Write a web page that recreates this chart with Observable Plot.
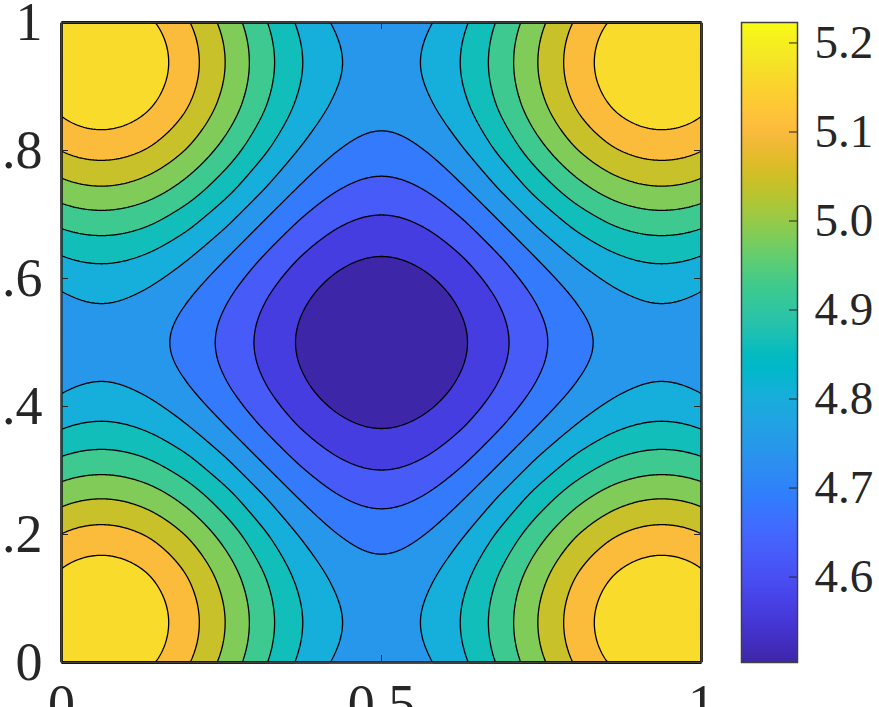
<!DOCTYPE html>
<html><head><meta charset="utf-8">
<script src="https://cdn.jsdelivr.net/npm/d3@7"></script>
<script src="https://cdn.jsdelivr.net/npm/@observablehq/plot@0.6"></script>
<style>
html,body{margin:0;padding:0;background:#fff;overflow:hidden;}
#wrap{display:flex;flex-direction:row;align-items:flex-start;width:879px;height:707px;overflow:hidden;}
#wrap svg{flex:none;max-width:none !important;}
#wrap svg.main{width:740px !important;height:740px !important;}
#wrap svg.cbar{width:139px !important;height:740px !important;}
</style></head><body><div id="wrap"></div>
<script>
// Grid positions (x and y) of the sampled field
const gridX = [0,0.0625,0.125,0.1875,0.25,0.3125,0.375,0.4375,0.5,0.5625,0.625,0.6875,0.75,0.8125,0.875,0.9375,1];
const gridY = [0,0.0625,0.125,0.1875,0.25,0.3125,0.375,0.4375,0.5,0.5625,0.625,0.6875,0.75,0.8125,0.875,0.9375,1];
// Field values, zGrid[iy][ix]
const zGrid = [
[5.1798,5.2012,5.1798,5.1199,5.0332,4.9371,4.8504,4.7905,4.7691,4.7905,4.8504,4.9371,5.0332,5.1199,5.1798,5.2012,5.1798],
[5.2012,5.2230,5.2012,5.1402,5.0519,4.9540,4.8658,4.8047,4.7829,4.8047,4.8658,4.9540,5.0519,5.1402,5.2012,5.2230,5.2012],
[5.1798,5.2012,5.1798,5.1199,5.0332,4.9371,4.8504,4.7905,4.7691,4.7905,4.8504,4.9371,5.0332,5.1199,5.1798,5.2012,5.1798],
[5.1199,5.1402,5.1199,5.0630,4.9809,4.8897,4.8075,4.7507,4.7304,4.7507,4.8075,4.8897,4.9809,5.0630,5.1199,5.1402,5.1199],
[5.0332,5.0519,5.0332,4.9809,4.9052,4.8212,4.7455,4.6932,4.6745,4.6932,4.7455,4.8212,4.9052,4.9809,5.0332,5.0519,5.0332],
[4.9371,4.9540,4.9371,4.8897,4.8212,4.7452,4.6767,4.6293,4.6124,4.6293,4.6767,4.7452,4.8212,4.8897,4.9371,4.9540,4.9371],
[4.8504,4.8658,4.8504,4.8075,4.7455,4.6767,4.6147,4.5718,4.5565,4.5718,4.6147,4.6767,4.7455,4.8075,4.8504,4.8658,4.8504],
[4.7905,4.8047,4.7905,4.7507,4.6932,4.6293,4.5718,4.5320,4.5178,4.5320,4.5718,4.6293,4.6932,4.7507,4.7905,4.8047,4.7905],
[4.7691,4.7829,4.7691,4.7304,4.6745,4.6124,4.5565,4.5178,4.5040,4.5178,4.5565,4.6124,4.6745,4.7304,4.7691,4.7829,4.7691],
[4.7905,4.8047,4.7905,4.7507,4.6932,4.6293,4.5718,4.5320,4.5178,4.5320,4.5718,4.6293,4.6932,4.7507,4.7905,4.8047,4.7905],
[4.8504,4.8658,4.8504,4.8075,4.7455,4.6767,4.6147,4.5718,4.5565,4.5718,4.6147,4.6767,4.7455,4.8075,4.8504,4.8658,4.8504],
[4.9371,4.9540,4.9371,4.8897,4.8212,4.7452,4.6767,4.6293,4.6124,4.6293,4.6767,4.7452,4.8212,4.8897,4.9371,4.9540,4.9371],
[5.0332,5.0519,5.0332,4.9809,4.9052,4.8212,4.7455,4.6932,4.6745,4.6932,4.7455,4.8212,4.9052,4.9809,5.0332,5.0519,5.0332],
[5.1199,5.1402,5.1199,5.0630,4.9809,4.8897,4.8075,4.7507,4.7304,4.7507,4.8075,4.8897,4.9809,5.0630,5.1199,5.1402,5.1199],
[5.1798,5.2012,5.1798,5.1199,5.0332,4.9371,4.8504,4.7905,4.7691,4.7905,4.8504,4.9371,5.0332,5.1199,5.1798,5.2012,5.1798],
[5.2012,5.2230,5.2012,5.1402,5.0519,4.9540,4.8658,4.8047,4.7829,4.8047,4.8658,4.9540,5.0519,5.1402,5.2012,5.2230,5.2012],
[5.1798,5.2012,5.1798,5.1199,5.0332,4.9371,4.8504,4.7905,4.7691,4.7905,4.8504,4.9371,5.0332,5.1199,5.1798,5.2012,5.1798]
];
const zRange = [4.504, 5.223];
const levels = [4.5639,4.6238,4.6838,4.7437,4.8036,4.8635,4.9234,4.9833,5.0433,5.1032,5.1631];
const xTicks = [0, 0.5, 1];
const yTicks = [0, 0.2, 0.4, 0.6, 0.8, 1];
const cbTicks = [4.6, 4.7, 4.8, 4.9, 5.0, 5.1, 5.2];

// parula colormap (64 entries)
const parula = [
[0.2422,0.1504,0.6603],[0.2504,0.1650,0.7076],[0.2578,0.1818,0.7511],[0.2647,0.1978,0.7952],
[0.2706,0.2147,0.8364],[0.2751,0.2342,0.8710],[0.2783,0.2559,0.8991],[0.2803,0.2782,0.9221],
[0.2813,0.3006,0.9414],[0.2810,0.3228,0.9579],[0.2795,0.3447,0.9717],[0.2760,0.3667,0.9829],
[0.2699,0.3892,0.9906],[0.2602,0.4123,0.9952],[0.2440,0.4358,0.9988],[0.2206,0.4603,0.9973],
[0.1963,0.4847,0.9892],[0.1834,0.5074,0.9798],[0.1786,0.5289,0.9682],[0.1764,0.5499,0.9520],
[0.1687,0.5703,0.9359],[0.1540,0.5902,0.9218],[0.1460,0.6091,0.9079],[0.1380,0.6276,0.8973],
[0.1248,0.6459,0.8883],[0.1113,0.6635,0.8763],[0.0952,0.6798,0.8598],[0.0689,0.6948,0.8394],
[0.0297,0.7082,0.8163],[0.0036,0.7203,0.7917],[0.0067,0.7312,0.7660],[0.0433,0.7411,0.7394],
[0.0964,0.7500,0.7120],[0.1408,0.7584,0.6842],[0.1717,0.7670,0.6554],[0.1938,0.7758,0.6251],
[0.2161,0.7843,0.5923],[0.2470,0.7918,0.5567],[0.2906,0.7973,0.5188],[0.3406,0.8008,0.4789],
[0.3909,0.8029,0.4354],[0.4456,0.8024,0.3909],[0.5044,0.7993,0.3480],[0.5616,0.7942,0.3045],
[0.6174,0.7876,0.2612],[0.6720,0.7793,0.2227],[0.7242,0.7698,0.1910],[0.7738,0.7598,0.1646],
[0.8203,0.7498,0.1535],[0.8634,0.7406,0.1596],[0.9035,0.7330,0.1774],[0.9393,0.7288,0.2100],
[0.9728,0.7298,0.2394],[0.9956,0.7434,0.2371],[0.9970,0.7659,0.2199],[0.9952,0.7893,0.2028],
[0.9892,0.8136,0.1885],[0.9786,0.8386,0.1766],[0.9676,0.8639,0.1643],[0.9610,0.8890,0.1537],
[0.9597,0.9135,0.1423],[0.9628,0.9373,0.1265],[0.9691,0.9606,0.1064],[0.9769,0.9839,0.0805]
];
const parulaInterp = d3.piecewise(d3.interpolateRgb, parula.map(([r,g,b]) => d3.rgb(r*255, g*255, b*255).formatHex()));
const colorScale = {type: "linear", domain: zRange, interpolate: parulaInterp, clamp: true};

// Smooth (bicubic Catmull-Rom) lookup into the grid, used by Plot's contour sampler
function padRow(v) {
  const n = v.length;
  return [3*v[0]-3*v[1]+v[2], ...v, 3*v[n-1]-3*v[n-2]+v[n-3]];
}
const padded = (() => {
  const rows = zGrid.map(padRow);
  const m = rows.length, w = rows[0].length;
  const top = [], bot = [];
  for (let j = 0; j < w; j++) {
    top.push(3*rows[0][j]-3*rows[1][j]+rows[2][j]);
    bot.push(3*rows[m-1][j]-3*rows[m-2][j]+rows[m-3][j]);
  }
  return [top, ...rows, bot];
})();
function crWeights(t) {
  const t2 = t*t, t3 = t2*t;
  return [(-t3 + 2*t2 - t)/2, (3*t3 - 5*t2 + 2)/2, (-3*t3 + 4*t2 + t)/2, (t3 - t2)/2];
}
function lookup(x, y) {
  const n = gridX.length, m = gridY.length;
  const fx = (x - gridX[0]) / (gridX[1] - gridX[0]);
  const fy = (y - gridY[0]) / (gridY[1] - gridY[0]);
  let ix = Math.max(0, Math.min(n - 2, Math.floor(fx)));
  let iy = Math.max(0, Math.min(m - 2, Math.floor(fy)));
  const wx = crWeights(fx - ix), wy = crWeights(fy - iy);
  let s = 0;
  for (let b = 0; b < 4; b++) {
    const row = padded[iy + b];
    let r = 0;
    for (let a = 0; a < 4; a++) r += wx[a] * row[ix + a];
    s += wy[b] * r;
  }
  return s;
}

const font = "'Liberation Serif', 'DejaVu Serif', serif";
const ink = "#262626";

const main = Plot.plot({
  className: "main",
  width: 740, height: 740,
  marginLeft: 61, marginRight: 39, marginTop: 22, marginBottom: 78,
  x: {domain: [0, 1], axis: null},
  y: {domain: [0, 1], axis: null},
  color: colorScale,
  style: {fontFamily: font, background: "transparent", color: ink},
  marks: [
    Plot.contour({fill: lookup, x1: 0, x2: 1, y1: 0, y2: 1, thresholds: [zRange[0] - 0.1, ...levels], stroke: "none", pixelSize: 1}),
    Plot.contour({value: lookup, x1: 0, x2: 1, y1: 0, y2: 1, thresholds: levels, fill: "none", stroke: "#000", strokeWidth: 1.3, pixelSize: 1}),
    Plot.tickX(xTicks, {x: d => d, insetTop: 633, stroke: ink}),
    Plot.tickX(xTicks, {x: d => d, insetBottom: 633, stroke: ink}),
    Plot.tickY(yTicks, {y: d => d, insetRight: 633, stroke: ink}),
    Plot.tickY(yTicks, {y: d => d, insetLeft: 633, stroke: ink}),
    Plot.frame({stroke: "#404040", strokeWidth: 1.5}),
    Plot.axisX(xTicks, {tickSize: 0, tickPadding: 21, fontSize: 54, tickFormat: d => String(d), fill: ink}),
    Plot.axisY(yTicks, {tickSize: 0, tickPadding: 19, fontSize: 54, tickFormat: d => String(d), fill: ink})
  ]
});

const cbar = Plot.plot({
  className: "cbar",
  width: 139, height: 740,
  marginLeft: 1, marginRight: 82, marginTop: 22, marginBottom: 78,
  x: {domain: [0, 1], axis: null},
  y: {domain: zRange, axis: null},
  color: colorScale,
  style: {fontFamily: font, background: "transparent", color: ink},
  marks: [
    Plot.raster({fill: (x, y) => y, x1: 0, x2: 1, y1: zRange[0], y2: zRange[1], pixelSize: 1}),
    Plot.tickY(cbTicks, {y: d => d, insetLeft: 48, stroke: ink}),
    Plot.frame({stroke: "#404040", strokeWidth: 1.5}),
    Plot.axisY(cbTicks, {anchor: "right", tickSize: 0, tickPadding: 17, fontSize: 47, tickFormat: d => d.toFixed(1), fill: ink})
  ]
});

main.classList.add("main");
cbar.classList.add("cbar");
main.style.width = "740px"; main.style.height = "740px"; main.style.maxWidth = "none";
cbar.style.width = "139px"; cbar.style.height = "740px"; cbar.style.maxWidth = "none";
const wrap = document.getElementById("wrap");
wrap.appendChild(main);
wrap.appendChild(cbar);
</script>
</body></html>
